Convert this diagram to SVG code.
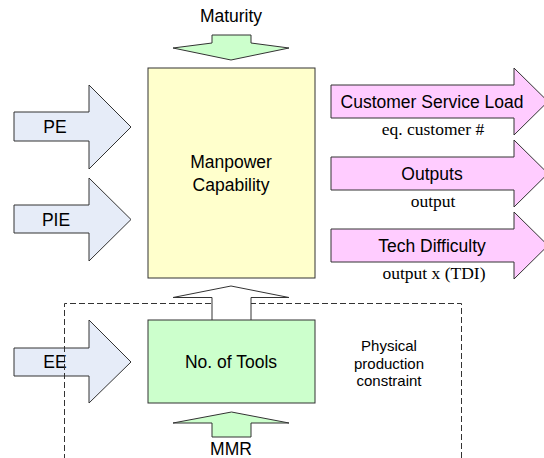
<svg xmlns="http://www.w3.org/2000/svg" width="544" height="458" viewBox="0 0 544 458">
<style>
.s{stroke:#333;stroke-width:1;stroke-linejoin:miter}
.blue{fill:#E6ECF8}
.pink{fill:#FFCCFF}
.green{fill:#CCFFCC}
.t{font-family:"Liberation Sans",Arial,sans-serif;font-size:17.5px;fill:#000;text-anchor:middle}
.sm{font-size:15px}
.r{font-family:"Liberation Serif","Times New Roman",serif;font-size:17.5px;fill:#000;text-anchor:middle}
.dash{fill:none;stroke:#333;stroke-width:1;stroke-dasharray:6,3}
</style>
<rect width="544" height="458" fill="#fff"/>
<g id="maturity">
<polygon class="s green" points="212,35 251,35 251,43 289,48 231,60 173,48 212,43"/>
<text class="t" x="231" y="22">Maturity</text>
</g>
<g id="manpower">
<rect class="s" x="148" y="68" width="167" height="210" fill="#FFFFCC"/>
<text class="t" x="231" y="168">Manpower</text>
<text class="t" x="231" y="191">Capability</text>
</g>
<g id="pe">
<polygon class="s blue" points="14,112 89,112 89,85 131,127 89,169 89,141 14,141"/>
<text class="t" x="55" y="132.5">PE</text>
</g>
<g id="pie">
<polygon class="s blue" points="14,205 89,205 89,178 131,219.5 89,261 89,233 14,233"/>
<text class="t" x="56" y="226">PIE</text>
</g>
<g id="ee">
<polygon class="s blue" points="14,348 89,348 89,320 131,362 89,403 89,376 14,376"/>
<text class="t" x="55" y="368">EE</text>
</g>
<g id="constraint">
<path class="dash" d="M64.5,460 V303.5 H461.5 V460"/>
<text class="t sm" x="389" y="351">Physical</text>
<text class="t sm" x="389" y="369">production</text>
<text class="t sm" x="389" y="386">constraint</text>
</g>
<g id="connectors">
<polygon class="s" fill="#fff" points="231,286 289,297.5 251,297.5 251,321 212,321 212,297.5 173,297.5"/>
</g>
<g id="tools">
<rect class="s green" x="148" y="320" width="167" height="83"/>
<text class="t" x="231" y="367.5">No. of Tools</text>
</g>
<g id="mmr">
<polygon class="s green" points="231.5,412 289,423 251,423 251,437 212,437 212,423 173,423"/>
<text class="t" x="231" y="454.5">MMR</text>
</g>
<g id="csl">
<polygon class="s pink" points="331,85 514,85 514,68 548,101.5 514,135 514,118 331,118"/>
<text class="t" x="432" y="108">Customer Service Load</text>
<text class="r" x="433" y="135">eq. customer #</text>
</g>
<g id="outputs">
<polygon class="s pink" points="331,157 514,157 514,140 548,173.5 514,207 514,190 331,190"/>
<text class="t" x="432" y="180">Outputs</text>
<text class="r" x="433" y="207">output</text>
</g>
<g id="tech">
<polygon class="s pink" points="331,229 514,229 514,212 548,245.5 514,279 514,262 331,262"/>
<text class="t" x="432" y="252">Tech Difficulty</text>
<text class="r" x="434" y="279">output x (TDI)</text>
</g>
</svg>
